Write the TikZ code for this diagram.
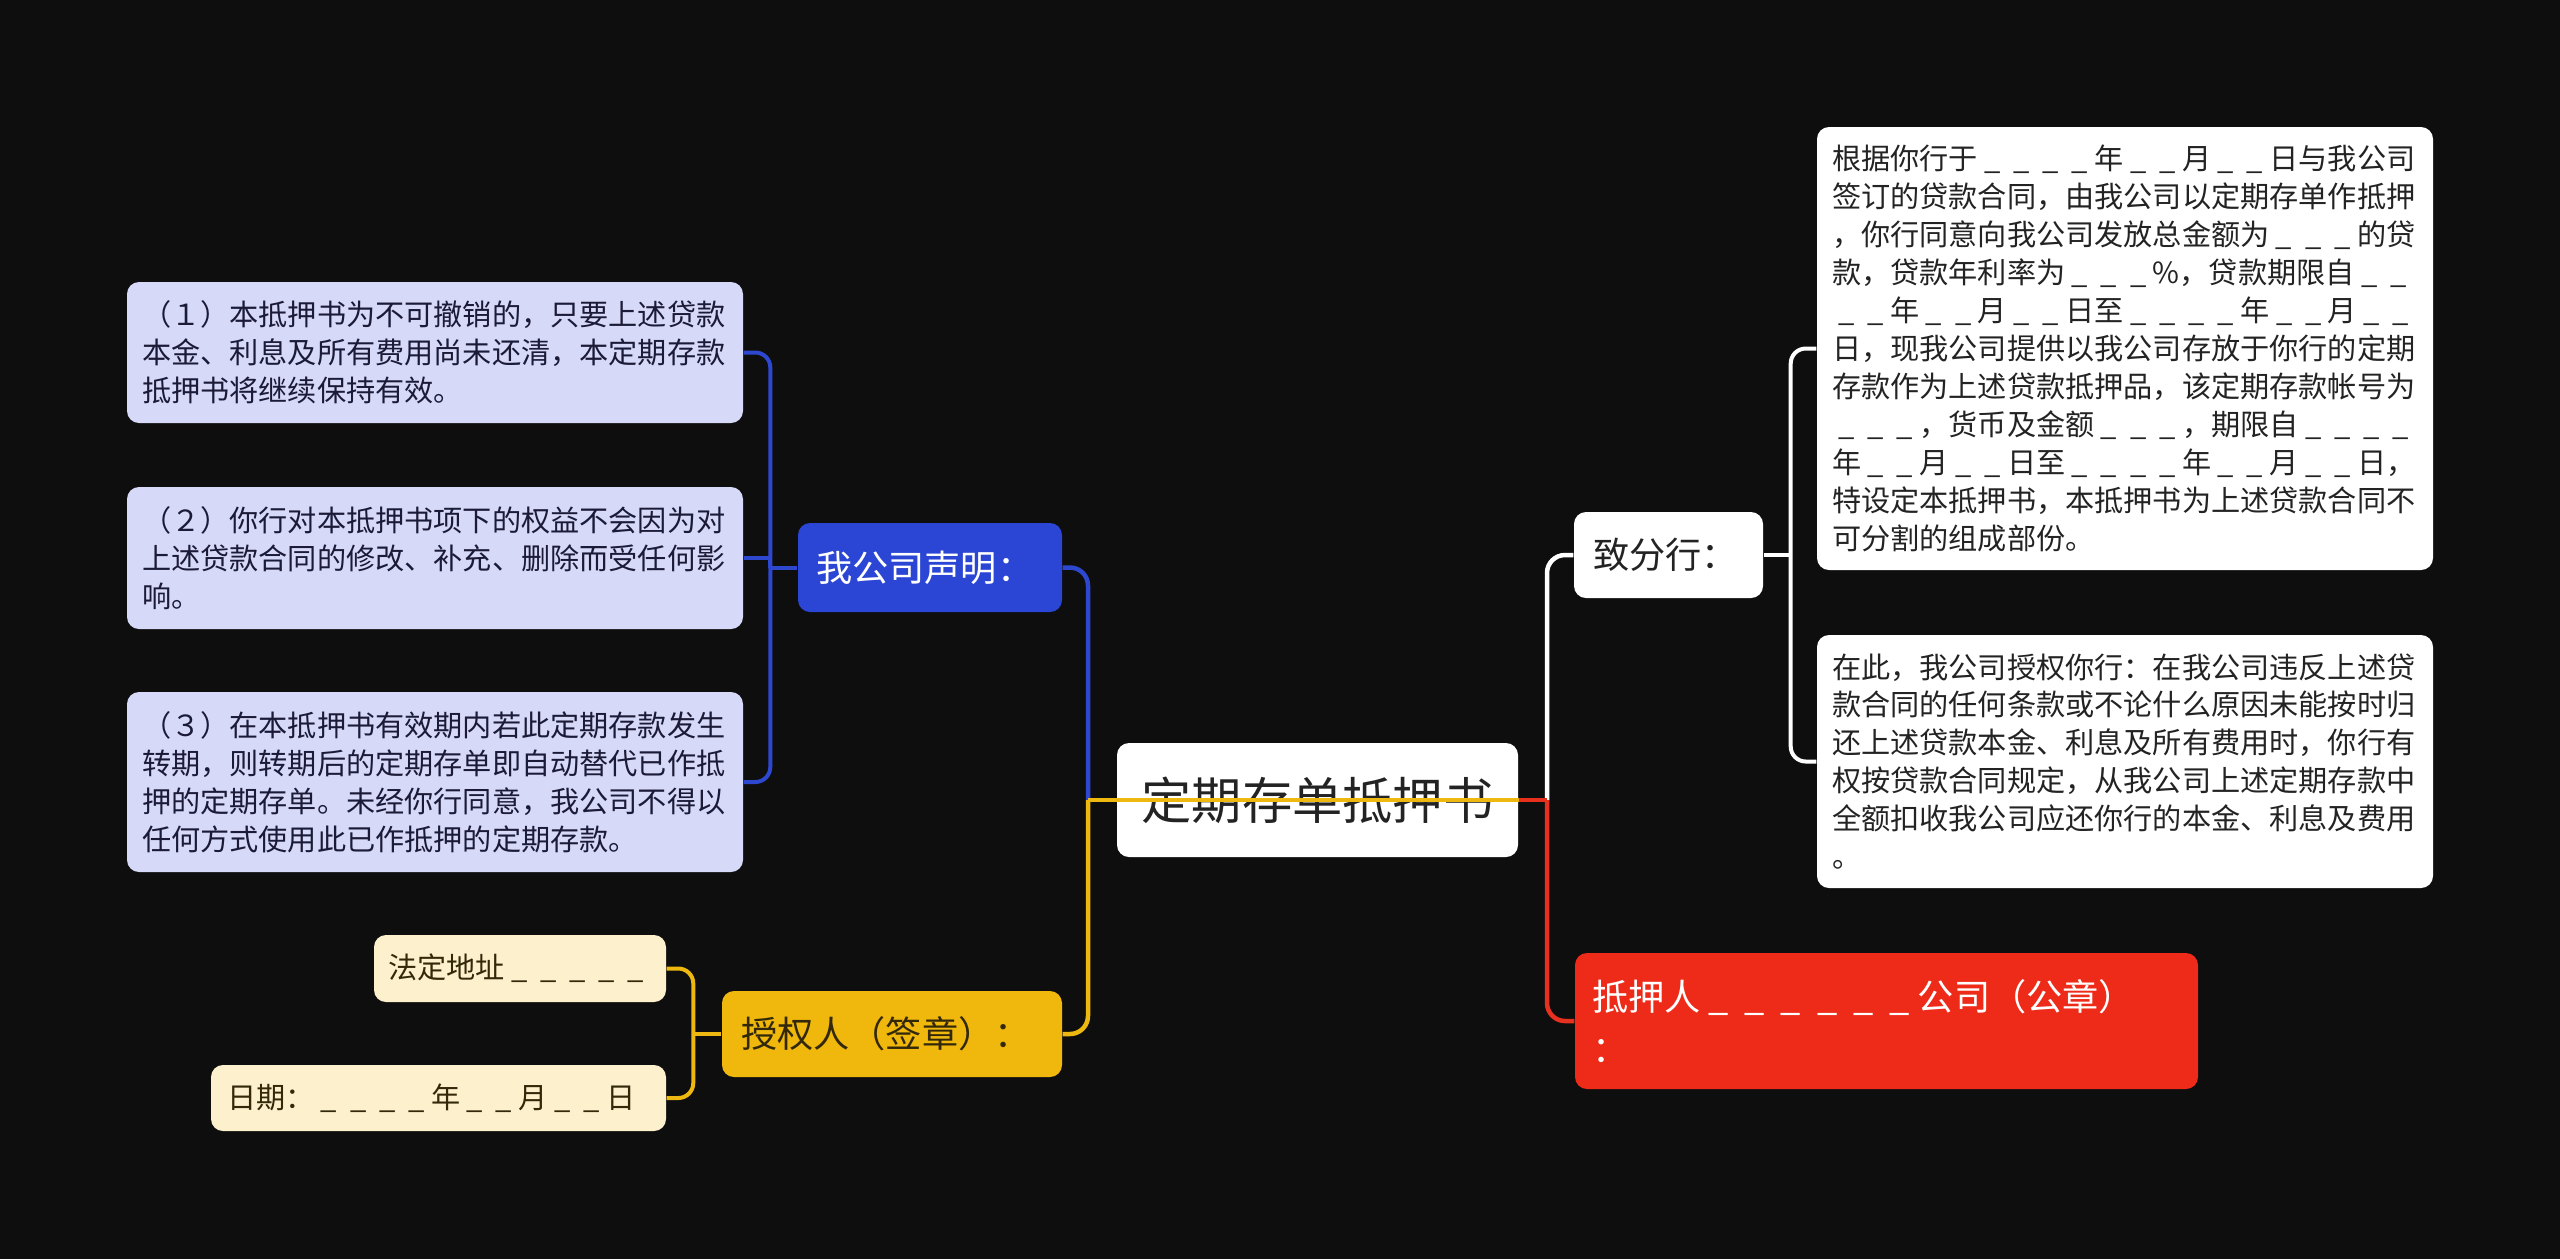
\documentclass[tikz,border=0pt]{standalone}
\usepackage{fontspec}
\setmainfont{Noto Sans CJK SC}
\usepackage{xcolor}
\usetikzlibrary{calc}

\definecolor{canvas}{HTML}{0E0E0E}
\definecolor{royal}{HTML}{2B45D5}
\definecolor{royalline}{HTML}{2E47CF}
\definecolor{lavender}{HTML}{D6D9F7}
\definecolor{gold}{HTML}{F0B80C}
\definecolor{goldline}{HTML}{EDB80F}
\definecolor{cream}{HTML}{FCF0CD}
\definecolor{scarlet}{HTML}{EE2A19}
\definecolor{scarletline}{HTML}{E8301F}
\definecolor{ink}{HTML}{232323}
\definecolor{navyink}{HTML}{1B1B38}
\definecolor{brownink}{HTML}{33290A}

\newcommand{\blank}[1]{\foreach \k in {1,...,#1}{\makebox[1em][c]{\_}}}

\tikzset{
  every node/.style = {font=\fontsize{8.3}{10.8}\selectfont},
  box/.style = {rounded corners=1.2mm, inner sep=0pt, align=left},
  leaf/.style = {box, text width=58.6mm, minimum width=61.6mm},
  declleaf/.style = {leaf, fill=lavender, text=navyink},
  noteleaf/.style = {leaf, fill=white, text=ink},
  signleaf/.style = {box, fill=cream, text=brownink},
  topic/.style = {box, font=\fontsize{10.3}{14.6}\selectfont}
}
\tikzset{
  link/.style = {line width=0.45mm, rounded corners=1.8mm},
  sublink/.style = {line width=0.4mm, rounded corners=1.5mm}
}

\begin{document}
\begin{tikzpicture}[x=0.1mm, y=-0.1mm]
  \fill[canvas] (0,0) rectangle (2560,1259);
  \useasboundingbox (0,0) rectangle (2560,1259);

  % root and main topics
  \node[box, align=center, fill=white, text=ink, font=\fontsize{14.3}{16}\selectfont,
    minimum width=40.1mm, minimum height=11.4mm] (root) at (1317.5,800) {定期存单抵押书};
  \node[topic, fill=royal, text=white, text width=22.8mm, minimum width=26.4mm,
    minimum height=8.9mm] (decl) at (930,567.5) {我公司声明：};
  \node[topic, fill=gold, text=brownink, text width=30.2mm, minimum width=34mm,
    minimum height=8.6mm] (sign) at (892,1034) {授权人（签章）：};
  \node[topic, fill=white, text=ink, text width=15.1mm, minimum width=18.9mm,
    minimum height=8.6mm] (branch) at (1668.5,555) {致分行：};
  \node[topic, fill=scarlet, text=white, text width=58.9mm, minimum width=62.3mm,
    minimum height=13.6mm] (pledger) at (1886.5,1021)
    {抵押人\blank{6}公司（公章）\\：};

  % declarations
  \node[declleaf, minimum height=14.1mm] (d1) at (435,352.5)
    {（１）本抵押书为不可撤销的，只要上述贷款\\本金、利息及所有费用尚未还清，本定期存款\\抵押书将继续保持有效。};
  \node[declleaf, minimum height=14.2mm] (d2) at (435,558)
    {（２）你行对本抵押书项下的权益不会因为对\\上述贷款合同的修改、补充、删除而受任何影\\响。};
  \node[declleaf, minimum height=18mm] (d3) at (435,782)
    {（３）在本抵押书有效期内若此定期存款发生\\转期，则转期后的定期存单即自动替代已作抵\\押的定期存单。未经你行同意，我公司不得以\\任何方式使用此已作抵押的定期存款。};

  % signature fields
  \node[signleaf, text width=26.4mm, minimum width=29.2mm, minimum height=6.7mm]
    (addr) at (520,968.5) {法定地址\blank{5}};
  \node[signleaf, text width=42.3mm, minimum width=45.5mm, minimum height=6.6mm]
    (date) at (438.5,1098) {日期：\blank{4}年\blank{2}月\blank{2}日};

  % letter body
  \node[noteleaf, minimum height=44.3mm] (n1) at (2125,348.5)
    {根据你行于\blank{4}年\blank{2}月\blank{2}日与我公司\\
     签订的贷款合同，由我公司以定期存单作抵押\\
     ，你行同意向我公司发放总金额为\blank{3}的贷\\
     款，贷款年利率为\blank{3}\%，贷款期限自\blank{2}\\
     \blank{2}年\blank{2}月\blank{2}日至\blank{4}年\blank{2}月\blank{2}\\
     日，现我公司提供以我公司存放于你行的定期\\
     存款作为上述贷款抵押品，该定期存款帐号为\\
     \blank{3}，货币及金额\blank{3}，期限自\blank{4}\\
     年\blank{2}月\blank{2}日至\blank{4}年\blank{2}月\blank{2}日，\\
     特设定本抵押书，本抵押书为上述贷款合同不\\
     可分割的组成部份。};
  \node[noteleaf, minimum height=25.3mm] (n2) at (2125,761.5)
    {在此，我公司授权你行：在我公司违反上述贷\\
     款合同的任何条款或不论什么原因未能按时归\\
     还上述贷款本金、利息及所有费用时，你行有\\
     权按贷款合同规定，从我公司上述定期存款中\\
     全额扣收我公司应还你行的本金、利息及费用\\
     。};

  % main branches
  \coordinate (lj) at (1088,800);
  \coordinate (rj) at (1547,800);
  \draw[link, royalline] (lj) |- (decl.east);
  \draw[link, goldline] (lj) |- (sign.east);
  \draw[line width=0.45mm, goldline] (root.east) -- (lj);
  \draw[link, white] (rj) |- (branch.west);
  \draw[link, scarletline] (rj) |- (pledger.west);
  \draw[line width=0.45mm, scarletline] (root.east) -- (rj);

  % sub branches
  \draw[sublink, royalline] (decl.west) -- ++(-27,0) coordinate (dj);
  \foreach \leaf in {d1,d3}
    \draw[sublink, royalline] (dj) |- (\leaf.east);
  \draw[line width=0.4mm, royalline] (dj) |- (d2.east);
  \draw[sublink, goldline] (sign.west) -- ++(-28,0) coordinate (sj);
  \foreach \leaf in {addr,date}
    \draw[sublink, goldline] (sj) |- (\leaf.east);
  \draw[sublink, white] (branch.east) -- ++(27,0) coordinate (bj);
  \foreach \leaf in {n1,n2}
    \draw[sublink, white] (bj) |- (\leaf.west);
\end{tikzpicture}
\end{document}
